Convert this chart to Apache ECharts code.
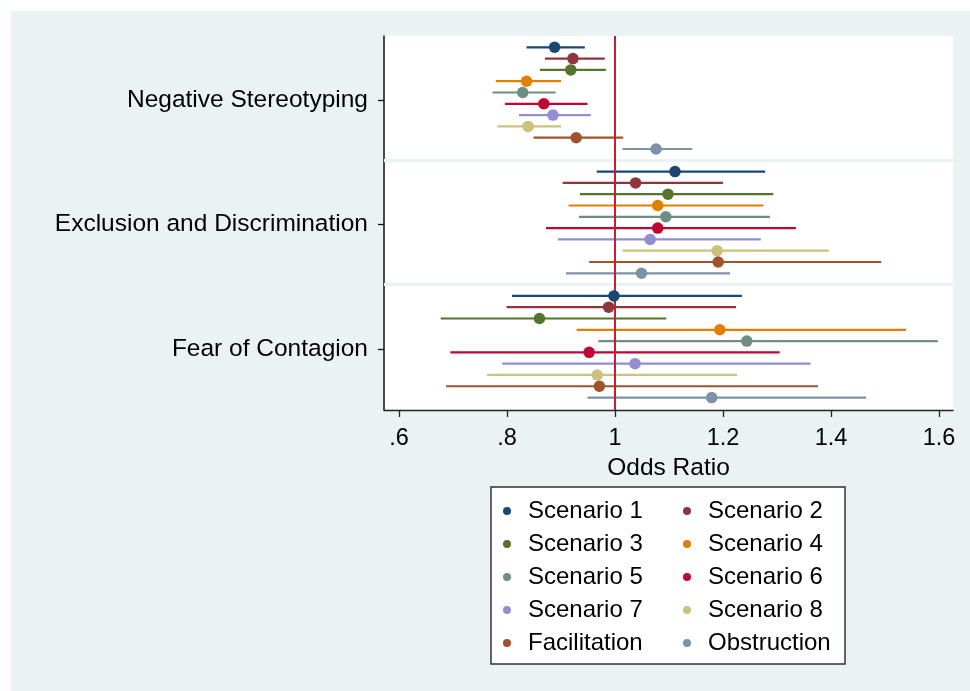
<!DOCTYPE html>
<html>
<head>
<meta charset="utf-8">
<script src="https://cdn.jsdelivr.net/npm/echarts@6/dist/echarts.min.js"></script>
<style>
html,body{margin:0;padding:0;background:#fff;}
#chart{width:970px;height:691px;}
</style>
</head>
<body>
<div id="chart"></div>
<script>
// ---- data ----
const groups = ['Negative Stereotyping', 'Exclusion and Discrimination', 'Fear of Contagion'];
const seriesNames = ['Scenario 1', 'Scenario 2', 'Scenario 3', 'Scenario 4', 'Scenario 5',
  'Scenario 6', 'Scenario 7', 'Scenario 8', 'Facilitation', 'Obstruction'];
const xTicks = [0.6, 0.8, 1.0, 1.2, 1.4, 1.6];

// Negative Stereotyping
const nsEst = [0.888, 0.922, 0.918, 0.836, 0.829, 0.868, 0.885, 0.839, 0.928, 1.076];
const nsLo  = [0.836, 0.870, 0.861, 0.779, 0.773, 0.796, 0.822, 0.782, 0.849, 1.014];
const nsHi  = [0.944, 0.981, 0.983, 0.900, 0.890, 0.949, 0.955, 0.900, 1.015, 1.143];
// Exclusion and Discrimination
const edEst = [1.111, 1.038, 1.098, 1.079, 1.094, 1.079, 1.065, 1.189, 1.191, 1.049];
const edLo  = [0.966, 0.903, 0.935, 0.914, 0.933, 0.872, 0.894, 1.014, 0.952, 0.909];
const edHi  = [1.278, 1.200, 1.293, 1.275, 1.287, 1.335, 1.270, 1.396, 1.493, 1.213];
// Fear of Contagion
const fcEst = [0.998, 0.988, 0.860, 1.194, 1.244, 0.952, 1.037, 0.967, 0.971, 1.179];
const fcLo  = [0.809, 0.799, 0.677, 0.929, 0.969, 0.695, 0.791, 0.763, 0.687, 0.949];
const fcHi  = [1.235, 1.224, 1.095, 1.539, 1.598, 1.305, 1.362, 1.226, 1.376, 1.465];

// ---- style ----
const palette = ['#1a476f', '#90353b', '#55752f', '#e37e00', '#6e8e84',
  '#c10534', '#938dd2', '#cac27e', '#a0522d', '#7b92a8'];
const FONT = '"Liberation Sans", Arial, sans-serif';
const BG = '#eaf2f3';
const ROWS_PER_GROUP = 11;   // 10 rows + 1 spacer
const LABEL_OFFSET = 4.7;

const est = [nsEst, edEst, fcEst];
const lo = [nsLo, edLo, fcLo];
const hi = [nsHi, edHi, fcHi];

function rowPos(g, s) { return g * ROWS_PER_GROUP + s; }
const groupTickPos = groups.map((_, g) => g * ROWS_PER_GROUP + LABEL_OFFSET);

const series = [];
seriesNames.forEach((name, s) => {
  const barData = groups.map((_, g) => [lo[g][s], hi[g][s], rowPos(g, s)]);
  const ptData = groups.map((_, g) => [est[g][s], rowPos(g, s)]);
  series.push({
    name: name,
    type: 'scatter',
    data: ptData,
    symbol: 'circle',
    symbolSize: 11.5,
    itemStyle: { color: palette[s], opacity: 1 },
    z: 5,
    silent: true
  });
  series.push({
    name: name + ' CI',
    type: 'custom',
    data: barData,
    encode: { x: [0, 1], y: 2 },
    z: 2,
    silent: true,
    itemStyle: { color: palette[s] },
    renderItem: function (params, api) {
      const y = api.value(2);
      const p1 = api.coord([api.value(0), y]);
      const p2 = api.coord([api.value(1), y]);
      return {
        type: 'line',
        shape: { x1: p1[0], y1: p1[1], x2: p2[0], y2: p2[1] },
        style: { stroke: palette[s], lineWidth: 2.2 }
      };
    }
  });
});

// separators between groups
series.push({
  type: 'line', data: [], z: 1, silent: true,
  markLine: {
    silent: true, symbol: 'none', label: { show: false }, animation: false,
    lineStyle: { color: BG, width: 3, type: 'solid' },
    data: groups.slice(1).map((_, g) => ({ yAxis: (g + 1) * ROWS_PER_GROUP - 1 }))
  }
});
// reference line at OR = 1
series.push({
  type: 'line', data: [], z: 3, silent: true,
  markLine: {
    silent: true, symbol: 'none', label: { show: false }, animation: false,
    lineStyle: { color: '#c4202f', width: 2, type: 'solid' },
    data: [{ xAxis: 1 }]
  }
});

const leftNames = seriesNames.filter((_, i) => i % 2 === 0);
const rightNames = seriesNames.filter((_, i) => i % 2 === 1);
const legendCommon = {
  orient: 'vertical', top: 494.5, padding: 0, itemGap: 0,
  icon: 'circle', itemWidth: 32, itemHeight: 8,
  selectedMode: false,
  textStyle: { fontFamily: FONT, fontSize: 24, color: '#000', lineHeight: 33 }
};

const option = {
  animation: false,
  backgroundColor: 'transparent',
  graphic: [
    { type: 'rect', z: -10, shape: { x: 11, y: 11, width: 970, height: 691 }, style: { fill: BG } },
    { type: 'rect', z: -5, shape: { x: 491, y: 487, width: 354, height: 177 },
      style: { fill: '#fff', stroke: '#333', lineWidth: 1.5 } }
  ],
  grid: {
    left: 384, top: 36, width: 569, height: 374,
    show: true, backgroundColor: '#fff', borderWidth: 0, containLabel: false
  },
  legend: [
    Object.assign({ left: 503, data: leftNames }, legendCommon),
    Object.assign({ left: 683, data: rightNames }, legendCommon)
  ],
  xAxis: {
    type: 'value', min: 0.572, max: 1.626,
    name: 'Odds Ratio', nameLocation: 'middle', nameGap: 40,
    nameTextStyle: { fontFamily: FONT, fontSize: 24.5, color: '#000' },
    axisLine: { show: true, onZero: false, lineStyle: { color: '#222', width: 1.3 } },
    axisTick: { show: true, length: 7, customValues: xTicks, lineStyle: { color: '#222', width: 1.3 } },
    axisLabel: {
      customValues: xTicks, margin: 17,
      fontFamily: FONT, fontSize: 23.5, color: '#000',
      formatter: v => { const t = String(Number(v.toFixed(1))); return t.replace(/^0\./, '.'); }
    },
    splitLine: { show: false }
  },
  yAxis: {
    type: 'value', inverse: true, min: -1, max: 32.1,
    axisLine: { show: true, onZero: false, lineStyle: { color: '#111', width: 1.5 } },
    axisTick: { show: true, length: 6, customValues: groupTickPos, lineStyle: { color: '#111', width: 1.3 } },
    axisLabel: {
      customValues: groupTickPos, margin: 16,
      fontFamily: FONT, fontSize: 24.5, color: '#000',
      formatter: v => groups[Math.round((v - LABEL_OFFSET) / ROWS_PER_GROUP)] || ''
    },
    splitLine: { show: false }
  },
  series: series
};

const chart = echarts.init(document.getElementById('chart'), null, { renderer: 'canvas' });
chart.setOption(option);
</script>
</body>
</html>
